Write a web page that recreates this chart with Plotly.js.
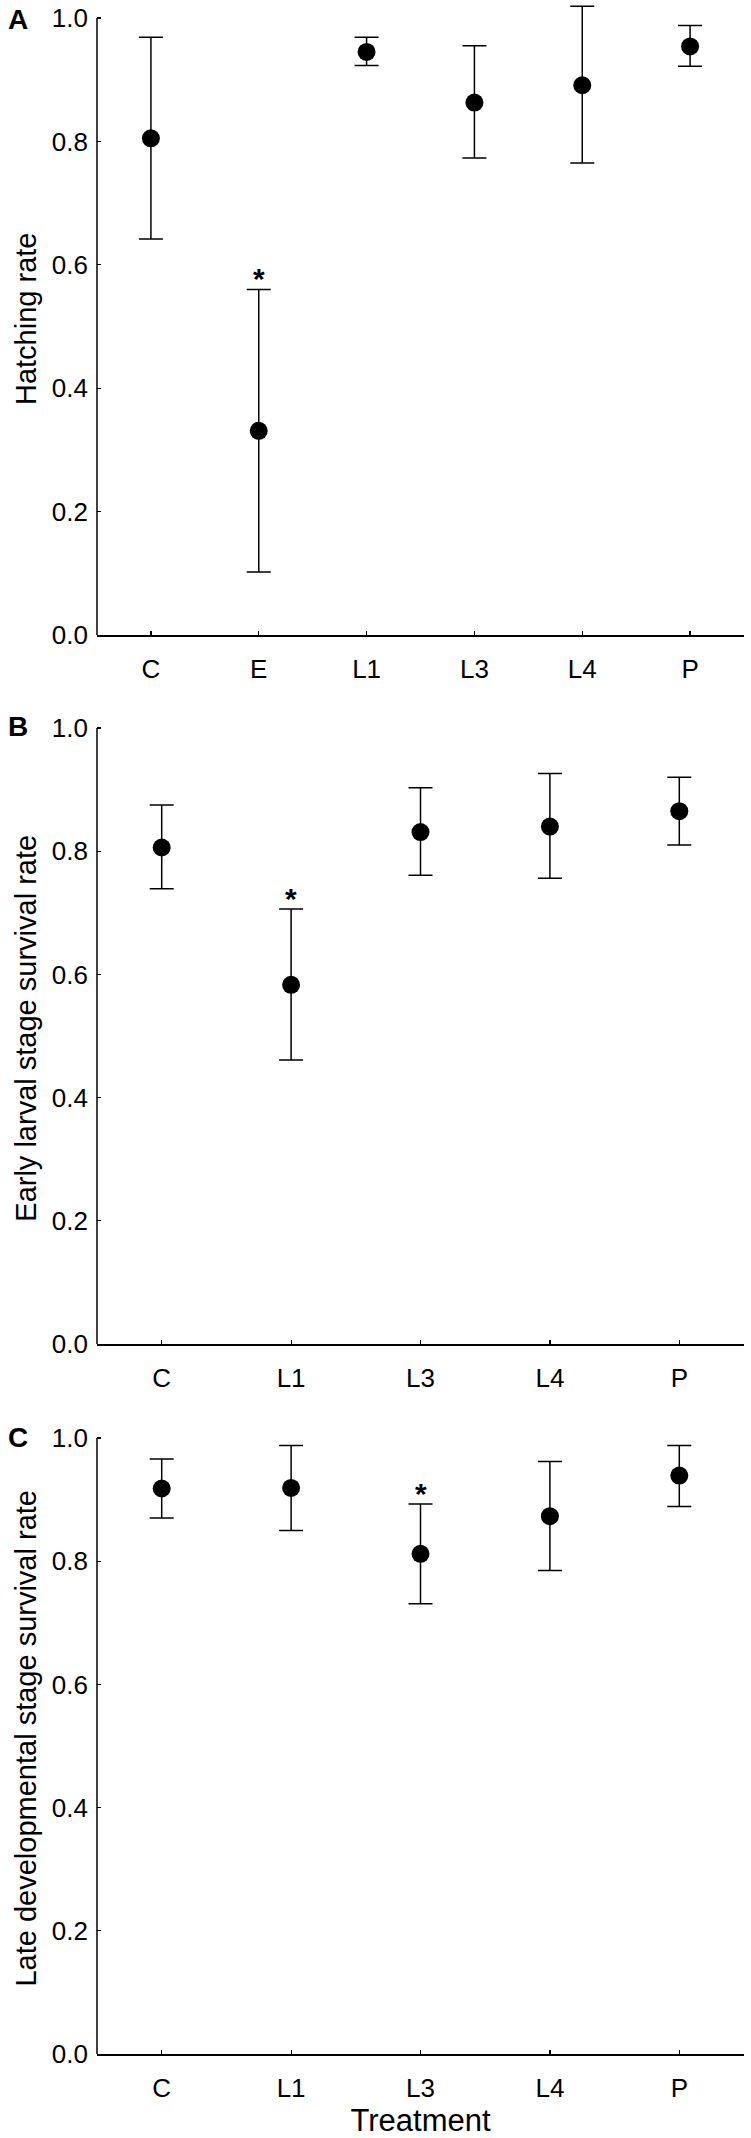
<!DOCTYPE html>
<html>
<head>
<meta charset="utf-8">
<script src="https://cdn.plot.ly/plotly-3.0.1.min.js"></script>
<style>html,body{margin:0;padding:0;background:#fff;}#chart{width:751px;height:2138px;}</style>
</head>
<body>
<div id="chart"></div>
<script>
// Panel A: hatching rate
const catA = ['C', 'E', 'L1', 'L3', 'L4', 'P'];
const meanA = [0.805, 0.331, 0.945, 0.863, 0.891, 0.954];
const plusA = [0.164, 0.229, 0.024, 0.092, 0.128, 0.034];
const minusA = [0.163, 0.229, 0.022, 0.090, 0.126, 0.032];
const sigA = ['', '*', '', '', '', ''];

// Panel B: early larval stage survival rate
const catB = ['C', 'L1', 'L3', 'L4', 'P'];
const meanB = [0.806, 0.583, 0.831, 0.840, 0.865];
const plusB = [0.069, 0.123, 0.072, 0.086, 0.055];
const minusB = [0.067, 0.122, 0.070, 0.084, 0.055];
const sigB = ['', '*', '', '', ''];

// Panel C: late developmental stage survival rate
const catC = ['C', 'L1', 'L3', 'L4', 'P'];
const meanC = [0.918, 0.919, 0.812, 0.873, 0.939];
const plusC = [0.048, 0.069, 0.081, 0.089, 0.049];
const minusC = [0.048, 0.069, 0.081, 0.088, 0.050];
const sigC = ['', '', '*', '', ''];

const yTickVals = [0, 0.2, 0.4, 0.6, 0.8, 1.0];
const panelLetters = ['A', 'B', 'C'];
const yTitles = ['Hatching rate', 'Early larval stage survival rate', 'Late developmental stage survival rate'];
const xTitle = 'Treatment';

const FONT = 'Arial, "Liberation Sans", Helvetica, sans-serif';
const H = 2138, W = 751;
const plotLeft = 97, plotRight = 744;
const YMAX = 1.025; // small headroom so the tallest error bar is not cut
const panels = [
  {top: 18, bottom: 635},
  {top: 728, bottom: 1344},
  {top: 1438, bottom: 2054}
];

function trace(cat, mean, plus, minus, ax) {
  return {
    type: 'scatter', mode: 'markers',
    x: cat, y: mean,
    xaxis: 'x' + ax, yaxis: 'y' + ax,
    marker: {color: '#000', size: 18, line: {width: 0}},
    error_y: {type: 'data', symmetric: false, array: plus, arrayminus: minus,
              color: '#000', thickness: 1.5, width: 12},
    cliponaxis: false, showlegend: false, hoverinfo: 'skip'
  };
}

const data = [
  trace(catA, meanA, plusA, minusA, ''),
  trace(catB, meanB, plusB, minusB, '2'),
  trace(catC, meanC, plusC, minusC, '3')
];

function xa(n, anchor, withTitle) {
  const o = {
    domain: [plotLeft / W, plotRight / W], anchor: anchor, type: 'category',
    range: [-0.5, n - 0.5], showgrid: false, zeroline: false,
    showline: true, linecolor: '#000', linewidth: 1.5,
    ticks: 'inside', ticklen: 4, tickwidth: 1.2, tickcolor: '#000',
    ticklabelstandoff: 10,
    tickfont: {family: FONT, size: 26, color: '#000'}, fixedrange: true
  };
  if (withTitle) o.title = {text: xTitle, font: {family: FONT, size: 31, color: '#000'}, standoff: 2};
  return o;
}
function ya(p, anchor, title) {
  const unit = p.bottom - p.top;
  const topPx = p.top - (YMAX - 1) * unit;
  return {
    domain: [1 - p.bottom / H, 1 - topPx / H], anchor: anchor,
    range: [0, YMAX], showgrid: false, zeroline: false,
    showline: false,
    ticks: 'inside', ticklen: 4, tickwidth: 1.2, tickcolor: '#000',
    tickvals: yTickVals, tickformat: '.1f', ticklabelstandoff: 8,
    tickfont: {family: FONT, size: 26, color: '#000'},
    title: {text: title, font: {family: FONT, size: 29, color: '#000'}, standoff: 6},
    fixedrange: true
  };
}

const shapes = ['', '2', '3'].map(ax => ({
  type: 'line', xref: 'x' + ax + ' domain', yref: 'y' + ax,
  x0: 0, x1: 0, y0: 0, y1: 1, line: {color: '#000', width: 1.5}
}));

const annotations = [];
const letterY = [19, 727, 1437];
panelLetters.forEach((L, i) => {
  annotations.push({
    text: '<b>' + L + '</b>', xref: 'paper', yref: 'paper',
    x: 18 / W, y: 1 - letterY[i] / H, xanchor: 'center', yanchor: 'middle',
    showarrow: false, font: {family: FONT, size: 28, color: '#000'}
  });
});
function addSig(cat, mean, plus, sig, ax) {
  sig.forEach((s, i) => {
    if (!s) return;
    annotations.push({
      text: '<b>' + s + '</b>', xref: 'x' + ax, yref: 'y' + ax, x: cat[i], y: mean[i] + plus[i],
      xanchor: 'center', yanchor: 'bottom', yshift: -8, showarrow: false,
      font: {family: FONT, size: 30, color: '#000'}
    });
  });
}
addSig(catA, meanA, plusA, sigA, '');
addSig(catB, meanB, plusB, sigB, '2');
addSig(catC, meanC, plusC, sigC, '3');

const layout = {
  width: W, height: H,
  margin: {l: 0, r: 0, t: 0, b: 0, pad: 0},
  paper_bgcolor: '#fff', plot_bgcolor: '#fff',
  font: {family: FONT, color: '#000'},
  xaxis: xa(catA.length, 'y', false),
  yaxis: ya(panels[0], 'x', yTitles[0]),
  xaxis2: xa(catB.length, 'y2', false),
  yaxis2: ya(panels[1], 'x2', yTitles[1]),
  xaxis3: xa(catC.length, 'y3', true),
  yaxis3: ya(panels[2], 'x3', yTitles[2]),
  shapes: shapes,
  annotations: annotations,
  showlegend: false
};

Plotly.newPlot('chart', data, layout, {staticPlot: true, displayModeBar: false});
</script>
</body>
</html>
